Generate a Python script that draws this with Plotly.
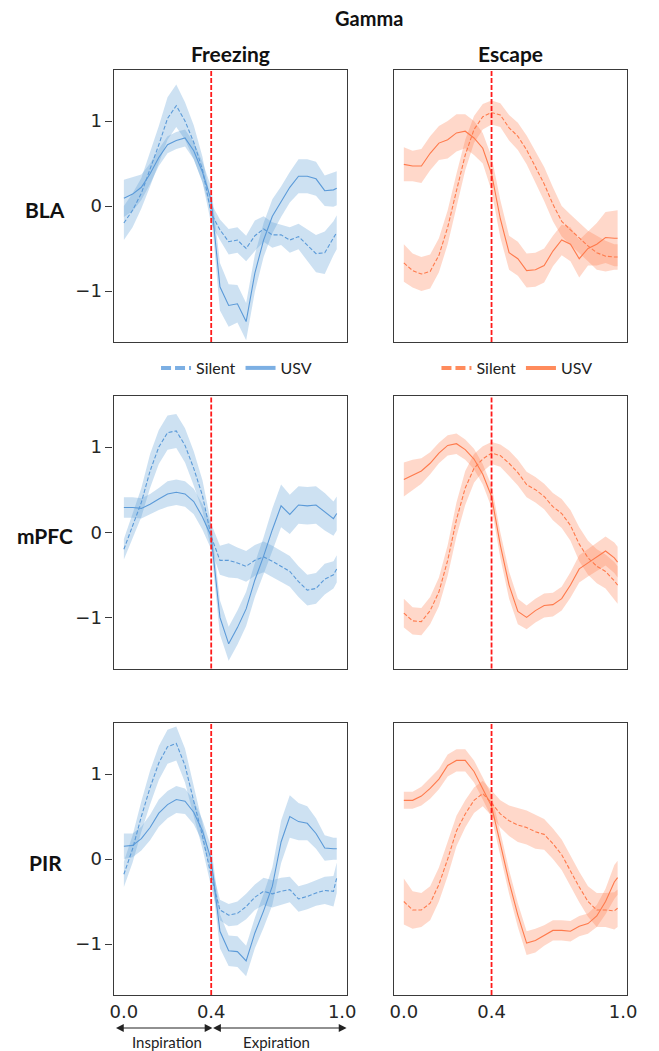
import plotly.graph_objects as go

# ---------------- data ----------------
phase = [0.00, 0.04, 0.08, 0.12, 0.16, 0.20, 0.24, 0.28, 0.32, 0.36, 0.40, 0.44, 0.48,
         0.52, 0.56, 0.60, 0.64, 0.68, 0.72, 0.76, 0.80, 0.84, 0.88, 0.92, 0.96, 0.975]

regions = ["BLA", "mPFC", "PIR"]
conditions = ["Freezing", "Escape"]
x_tick_vals = [0.0, 0.4, 1.0]
x_tick_text = ["0.0", "0.4", "1.0"]
y_tick_vals = [-1, 0, 1]
boundary = 0.4

# BLA
bla_frz_usv = [0.09, 0.14, 0.22, 0.38, 0.57, 0.72, 0.77, 0.80, 0.65, 0.40, 0.07, -0.95, -1.17,
               -1.15, -1.36, -0.79, -0.40, -0.12, 0.05, 0.22, 0.35, 0.35, 0.32, 0.18, 0.19, 0.21]
bla_frz_usv_sem = [0.22, 0.2, 0.15, 0.12, 0.1, 0.1, 0.1, 0.1, 0.1, 0.12, 0.15, 0.28, 0.25,
                   0.22, 0.22, 0.22, 0.2, 0.2, 0.18, 0.18, 0.2, 0.2, 0.2, 0.18, 0.2, 0.2]
bla_frz_sil = [-0.20, -0.05, 0.15, 0.43, 0.72, 1.03, 1.18, 1.00, 0.75, 0.43, -0.09, -0.28, -0.42,
               -0.40, -0.50, -0.35, -0.27, -0.34, -0.34, -0.40, -0.36, -0.46, -0.56, -0.55, -0.38, -0.31]
bla_frz_sil_sem = [0.2, 0.2, 0.18, 0.2, 0.22, 0.25, 0.25, 0.22, 0.2, 0.15, 0.12, 0.12, 0.15,
                   0.15, 0.15, 0.18, 0.15, 0.15, 0.12, 0.15, 0.15, 0.18, 0.22, 0.25, 0.2, 0.2]
bla_esc_usv = [0.49, 0.47, 0.47, 0.62, 0.74, 0.78, 0.86, 0.88, 0.80, 0.68, 0.38, -0.15, -0.55,
               -0.62, -0.76, -0.75, -0.70, -0.53, -0.40, -0.45, -0.62, -0.50, -0.45, -0.37, -0.38, -0.38]
bla_esc_usv_sem = [0.2, 0.18, 0.2, 0.2, 0.2, 0.22, 0.22, 0.2, 0.2, 0.18, 0.2, 0.22, 0.2,
                   0.2, 0.2, 0.2, 0.2, 0.18, 0.18, 0.2, 0.22, 0.2, 0.25, 0.3, 0.33, 0.33]
bla_esc_sil = [-0.67, -0.76, -0.80, -0.77, -0.58, -0.25, 0.18, 0.60, 0.90, 1.05, 1.10, 1.07, 0.92,
               0.82, 0.66, 0.46, 0.26, 0.02, -0.18, -0.28, -0.38, -0.47, -0.55, -0.59, -0.60, -0.60]
bla_esc_sil_sem = [0.22, 0.2, 0.2, 0.2, 0.2, 0.2, 0.2, 0.18, 0.16, 0.15, 0.14, 0.14, 0.15,
                   0.16, 0.17, 0.18, 0.2, 0.2, 0.18, 0.18, 0.18, 0.18, 0.2, 0.18, 0.15, 0.15]

# mPFC
mpfc_frz_usv = [0.29, 0.29, 0.28, 0.33, 0.39, 0.45, 0.47, 0.45, 0.36, 0.18, -0.05, -1.00, -1.31,
                -1.12, -0.90, -0.56, -0.28, 0.03, 0.31, 0.21, 0.32, 0.31, 0.32, 0.24, 0.16, 0.22]
mpfc_frz_usv_sem = [0.12, 0.12, 0.12, 0.12, 0.13, 0.15, 0.15, 0.15, 0.15, 0.15, 0.15, 0.2, 0.2,
                    0.2, 0.2, 0.2, 0.22, 0.25, 0.25, 0.23, 0.22, 0.22, 0.22, 0.22, 0.2, 0.2]
mpfc_frz_sil = [-0.20, 0.07, 0.35, 0.72, 1.00, 1.17, 1.19, 1.02, 0.75, 0.43, -0.05, -0.33, -0.33,
                -0.36, -0.40, -0.33, -0.29, -0.34, -0.40, -0.46, -0.58, -0.68, -0.66, -0.55, -0.50, -0.43]
mpfc_frz_sil_sem = [0.12, 0.14, 0.17, 0.2, 0.2, 0.2, 0.2, 0.2, 0.2, 0.18, 0.15, 0.17, 0.2,
                    0.18, 0.18, 0.18, 0.18, 0.18, 0.18, 0.18, 0.18, 0.18, 0.18, 0.18, 0.16, 0.16]
mpfc_esc_usv = [0.62, 0.67, 0.72, 0.81, 0.93, 1.02, 1.04, 0.97, 0.86, 0.68, 0.42, -0.15, -0.62,
                -0.93, -1.00, -0.92, -0.86, -0.85, -0.78, -0.62, -0.43, -0.36, -0.29, -0.22, -0.30, -0.35]
mpfc_esc_usv_sem = [0.2, 0.18, 0.15, 0.13, 0.12, 0.12, 0.12, 0.12, 0.12, 0.12, 0.13, 0.15, 0.16,
                    0.15, 0.14, 0.14, 0.14, 0.14, 0.14, 0.15, 0.16, 0.16, 0.16, 0.17, 0.18, 0.18]
mpfc_esc_sil = [-0.95, -1.04, -1.05, -0.92, -0.70, -0.33, 0.15, 0.52, 0.75, 0.86, 0.93, 0.90, 0.81,
                0.70, 0.56, 0.50, 0.42, 0.30, 0.22, 0.08, -0.14, -0.30, -0.40, -0.46, -0.57, -0.62]
mpfc_esc_sil_sem = [0.17, 0.16, 0.16, 0.16, 0.17, 0.18, 0.2, 0.2, 0.17, 0.15, 0.13, 0.13, 0.15,
                    0.15, 0.15, 0.15, 0.15, 0.16, 0.17, 0.18, 0.2, 0.2, 0.2, 0.2, 0.22, 0.22]

# PIR
pir_frz_usv = [0.15, 0.16, 0.24, 0.37, 0.54, 0.64, 0.70, 0.68, 0.55, 0.33, -0.01, -0.85, -1.08,
               -1.09, -1.20, -0.87, -0.61, -0.32, 0.20, 0.50, 0.44, 0.42, 0.30, 0.13, 0.12, 0.12]
pir_frz_usv_sem = [0.15, 0.14, 0.14, 0.15, 0.16, 0.16, 0.16, 0.15, 0.14, 0.13, 0.15, 0.2, 0.18,
                   0.18, 0.18, 0.18, 0.2, 0.22, 0.25, 0.25, 0.22, 0.2, 0.18, 0.15, 0.13, 0.13]
pir_frz_sil = [-0.18, 0.12, 0.50, 0.84, 1.13, 1.32, 1.36, 1.10, 0.68, 0.27, -0.20, -0.60, -0.66,
               -0.64, -0.56, -0.45, -0.38, -0.41, -0.38, -0.36, -0.47, -0.44, -0.40, -0.37, -0.38, -0.22]
pir_frz_sil_sem = [0.15, 0.16, 0.18, 0.2, 0.2, 0.2, 0.2, 0.2, 0.18, 0.15, 0.13, 0.12, 0.13,
                   0.14, 0.15, 0.15, 0.16, 0.16, 0.16, 0.15, 0.15, 0.15, 0.15, 0.16, 0.18, 0.18]
pir_esc_usv = [0.69, 0.69, 0.74, 0.83, 0.94, 1.10, 1.16, 1.16, 1.03, 0.83, 0.62, 0.18, -0.27,
               -0.66, -0.99, -0.96, -0.90, -0.84, -0.84, -0.85, -0.79, -0.76, -0.67, -0.50, -0.27, -0.22]
pir_esc_usv_sem = [0.1, 0.1, 0.11, 0.12, 0.12, 0.13, 0.13, 0.13, 0.13, 0.13, 0.13, 0.14, 0.14,
                   0.14, 0.14, 0.14, 0.12, 0.12, 0.12, 0.12, 0.12, 0.12, 0.13, 0.15, 0.2, 0.2]
pir_esc_sil = [-0.50, -0.60, -0.60, -0.52, -0.30, 0.00, 0.33, 0.53, 0.69, 0.77, 0.66, 0.53, 0.45,
               0.40, 0.37, 0.32, 0.29, 0.18, 0.05, -0.14, -0.33, -0.50, -0.60, -0.60, -0.61, -0.58]
pir_esc_sil_sem = [0.27, 0.22, 0.2, 0.2, 0.2, 0.2, 0.18, 0.16, 0.15, 0.15, 0.15, 0.16, 0.18,
                   0.2, 0.2, 0.2, 0.18, 0.18, 0.18, 0.18, 0.18, 0.18, 0.2, 0.2, 0.22, 0.22]

panels = [
    [(bla_frz_sil, bla_frz_sil_sem, bla_frz_usv, bla_frz_usv_sem),
     (bla_esc_sil, bla_esc_sil_sem, bla_esc_usv, bla_esc_usv_sem)],
    [(mpfc_frz_sil, mpfc_frz_sil_sem, mpfc_frz_usv, mpfc_frz_usv_sem),
     (mpfc_esc_sil, mpfc_esc_sil_sem, mpfc_esc_usv, mpfc_esc_usv_sem)],
    [(pir_frz_sil, pir_frz_sil_sem, pir_frz_usv, pir_frz_usv_sem),
     (pir_esc_sil, pir_esc_sil_sem, pir_esc_usv, pir_esc_usv_sem)],
]

# ---------------- styling ----------------
W, H = 659, 1051
line_col = ["#5b9ad8", "#ff7a4c"]
fill_col = ["rgba(91,155,213,0.30)", "rgba(255,127,80,0.30)"]
legend_col = ["#7cafe3", "#ff8b5c"]
col_px = [(112, 350), (398, 637)]
row_px = [(70, 342), (396, 668.5), (723, 995)]
TITLE_FONT = "Lato"
TICK_FONT = "DejaVu Sans"

fig = go.Figure()
layout = dict(width=W, height=H, margin=dict(l=0, r=0, t=0, b=0),
              plot_bgcolor="white", paper_bgcolor="white", showlegend=True)
shapes = []
annotations = []

for r in range(3):
    for c in range(2):
        k = r * 2 + 1 + c
        xa = "x" if k == 1 else f"x{k}"
        ya = "y" if k == 1 else f"y{k}"
        sil, sil_sem, usv, usv_sem = panels[r][c]
        for mean, sem in [(sil, sil_sem), (usv, usv_sem)]:
            upper = [m + s for m, s in zip(mean, sem)]
            lower = [m - s for m, s in zip(mean, sem)]
            fig.add_trace(go.Scatter(
                x=phase + phase[::-1], y=upper + lower[::-1], fill="toself",
                fillcolor=fill_col[c], line=dict(width=0), mode="lines",
                hoverinfo="skip", showlegend=False, xaxis=xa, yaxis=ya))
        for mean, dash in [(sil, "4px,2px"), (usv, "solid")]:
            fig.add_trace(go.Scatter(
                x=phase, y=mean, mode="lines",
                line=dict(color=line_col[c], width=1.1, dash=dash),
                showlegend=False, xaxis=xa, yaxis=ya))
        x0, x1 = col_px[c]
        y0, y1 = row_px[r]
        layout["xaxis" if k == 1 else f"xaxis{k}"] = dict(
            domain=[x0 / W, x1 / W], range=[-0.047, 1.02], anchor=ya,
            showline=True, linecolor="#3a3a3a", linewidth=1.3, mirror=True,
            showgrid=False, zeroline=False, ticks="",
            tickvals=x_tick_vals, ticktext=x_tick_text,
            showticklabels=(r == 2),
            tickfont=dict(family=TICK_FONT, size=18, color="#262626"))
        layout["yaxis" if k == 1 else f"yaxis{k}"] = dict(
            domain=[1 - y1 / H, 1 - y0 / H], range=[-1.6, 1.6], anchor=xa,
            showline=True, linecolor="#3a3a3a", linewidth=1.3, mirror=True,
            showgrid=False, zeroline=False,
            ticks="outside" if c == 0 else "", ticklen=7, tickcolor="#3a3a3a",
            tickvals=y_tick_vals, showticklabels=(c == 0),
            tickfont=dict(family=TICK_FONT, size=18, color="#262626"))
        shapes.append(dict(type="line", xref=xa, yref=f"{ya} domain",
                           x0=boundary, x1=boundary, y0=0, y1=1,
                           line=dict(color="#ff1a1a", width=1.8, dash="5px,2px")))
        if r == 0:
            annotations.append(dict(text=f"<b>{conditions[c]}</b>", xref="paper", yref="paper",
                                    x=(x0 + x1) / 2 / W, y=1 - 53 / H, showarrow=False,
                                    font=dict(family=TITLE_FONT, size=21, color="#111"),
                                    xanchor="center", yanchor="middle"))
    yz = row_px[r][0] + (row_px[r][1] - row_px[r][0]) / 2
    annotations.append(dict(text=f"<b>{regions[r]}</b>", xref="paper", yref="paper",
                            x=42 / W, y=1 - (yz + 3) / H, showarrow=False,
                            font=dict(family=TITLE_FONT, size=21, color="#111"),
                            xanchor="center", yanchor="middle"))

annotations.append(dict(text="<b>Gamma</b>", xref="paper", yref="paper", x=373 / W, y=1 - 18 / H,
                        showarrow=False, font=dict(family=TITLE_FONT, size=20, color="#111"),
                        xanchor="center", yanchor="middle"))

# Legend-only traces
legend_names = ["Silent", "USV"]
for c in range(2):
    lg = "legend" if c == 0 else "legend2"
    for name, dash in zip(legend_names, ["10px,4px", "solid"]):
        fig.add_trace(go.Scatter(x=[None], y=[None], mode="lines", name=name,
                                 line=dict(color=legend_col[c], width=4, dash=dash),
                                 legend=lg, xaxis="x", yaxis="y"))
    x0, x1 = col_px[c]
    layout[lg] = dict(orientation="h", x=(x0 + x1) / 2 / W + 0.01, y=1 - 368 / H,
                      xanchor="center", yanchor="middle", bgcolor="rgba(0,0,0,0)",
                      font=dict(family=TITLE_FONT, size=16, color="#222"),
                      itemwidth=30, tracegroupgap=0)

# Inspiration / Expiration arrows under bottom-left panel (paper coords, pixel tails)
arrow_y = 1 - 1028 / H
for (a_px, b_px) in [(115, 213), (215, 350)]:
    annotations.append(dict(x=b_px / W, y=arrow_y, xref="paper", yref="paper",
                            ax=a_px - b_px, ay=0, axref="pixel", ayref="pixel",
                            text="", showarrow=True, arrowhead=2, arrowside="end+start",
                            arrowsize=1.3, arrowwidth=1.2, arrowcolor="#222"))
for txt, xc in [("Inspiration", 0.198), ("Expiration", 0.70)]:
    annotations.append(dict(text=txt, x=xc, xref="x5", y=1 - 1042 / H, yref="paper",
                            showarrow=False, font=dict(family=TITLE_FONT, size=15, color="#222"),
                            xanchor="center", yanchor="middle"))

layout["shapes"] = shapes
layout["annotations"] = annotations
fig.update_layout(**layout)
fig.write_html("out.html", config={"displayModeBar": False},
               post_script="document.body.style.margin='0px';document.body.style.overflow='hidden';")
